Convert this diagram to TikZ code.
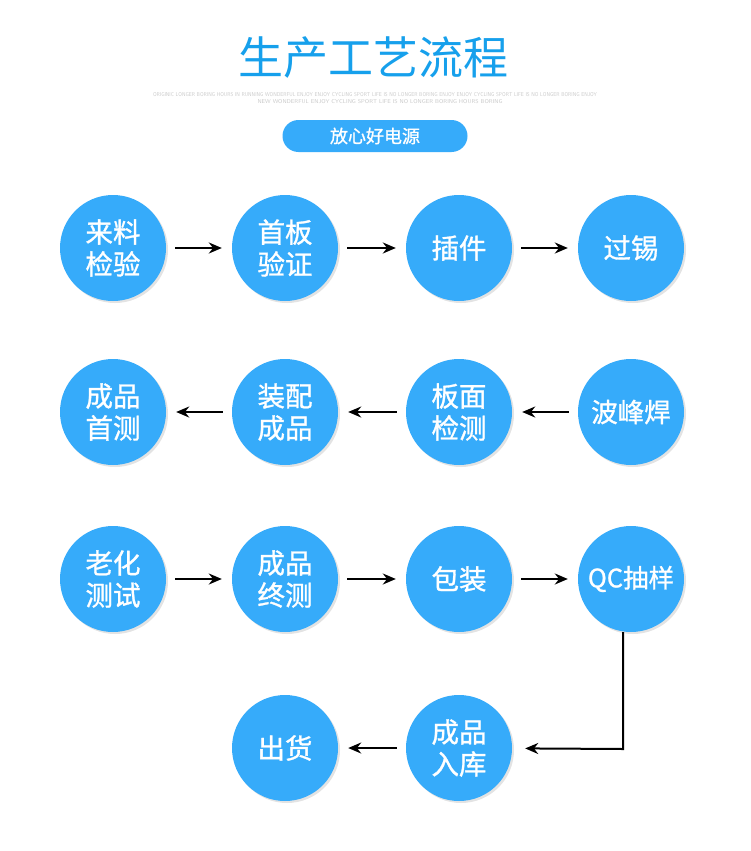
\documentclass[tikz,border=0pt]{standalone}
\usepackage{fontspec}
\usepackage{graphicx}
\newfontfamily\cjk{Noto Sans CJK SC}
\newfontfamily\cjkmid[FakeBold=1.1]{Noto Sans CJK SC}
\usetikzlibrary{arrows.meta,shadows,calc}
\definecolor{stepblue}{RGB}{54,171,250}
\definecolor{titleblue}{RGB}{22,160,236}
\definecolor{tinygray}{RGB}{200,200,200}

\tikzset{
  stepnode/.style={circle, fill=stepblue, minimum size=106pt, inner sep=0pt,
    text=white, align=center, font=\cjkmid\fontsize{27.5}{32}\selectfont,
    drop shadow={opacity=0.22, shadow xshift=2pt, shadow yshift=-2pt}},
  flow/.style={-{Stealth[length=13pt,width=11pt]}, line width=2pt,
    shorten <=9pt, shorten >=10pt},
}

\begin{document}
\begin{tikzpicture}[x=1pt, y=-1pt]
\useasboundingbox[fill=white] (0,0) rectangle (750,851);

% title
\node[text=titleblue, font=\cjk\fontsize{45}{50}\selectfont] (title) at (373,58) {生产工艺流程};
\node[text=tinygray, inner sep=0pt] (sub1) at (375,95)
  {\resizebox{444pt}{4pt}{\sffamily ORIGINIC LONGER BORING HOURS IN RUNNING WONDERFUL ENJOY ENJOY CYCLING SPORT LIFE IS NO LONGER BORING ENJOY ENJOY CYCLING SPORT LIFE IS NO LONGER BORING ENJOY}};
\node[text=tinygray, inner sep=0pt] (sub2) at (380,102)
  {\resizebox{245pt}{4pt}{\sffamily NEW WONDERFUL ENJOY CYCLING SPORT LIFE IS NO LONGER BORING HOURS BORING}};
\node[fill=stepblue, rounded corners=16pt, minimum width=185pt, minimum height=32pt,
  text=white, font=\cjkmid\fontsize{18}{20}\selectfont] (tag) at (375,136) {放心好电源};

% row 1
\node[stepnode] (laoliao) at (113,248) {来料\\检验};
\node[stepnode] (shouban) at (285,248) {首板\\验证};
\node[stepnode] (chajian) at (459,248) {插件};
\node[stepnode] (guoxi) at (631,248) {过锡};

% row 2
\node[stepnode] (shouce) at (113,412) {成品\\首测};
\node[stepnode] (zhuangpei) at (285,412) {装配\\成品};
\node[stepnode] (banmian) at (459,412) {板面\\检测};
\node[stepnode, font=\cjkmid\fontsize{26.5}{30}\selectfont] (bofeng) at (631,412) {波峰焊};

% row 3
\node[stepnode] (laohua) at (113,579) {老化\\测试};
\node[stepnode] (zhongce) at (285,579) {成品\\终测};
\node[stepnode] (baozhuang) at (459,579) {包装};
\node[stepnode, font=\cjkmid\fontsize{25.5}{30}\selectfont] (qc) at (631,579) {QC抽样};

% row 4
\node[stepnode] (chuhuo) at (285,748) {出货};
\node[stepnode] (ruku) at (459,748) {成品\\入库};

\draw[flow] (laoliao) -- (shouban);
\draw[flow] (shouban) -- (chajian);
\draw[flow] (chajian) -- (guoxi);

\draw[flow] (bofeng) -- (banmian);
\draw[flow] (banmian) -- (zhuangpei);
\draw[flow] (zhuangpei) -- (shouce);

\draw[flow] (laohua) -- (zhongce);
\draw[flow] (zhongce) -- (baozhuang);
\draw[flow] (baozhuang) -- (qc);

\coordinate (bend) at (623,749);
\draw[flow, shorten <=0pt, shorten >=13pt] (qc.south -| bend) -- (bend) -- (ruku);
\draw[flow] (ruku) -- (chuhuo);

\end{tikzpicture}
\end{document}
